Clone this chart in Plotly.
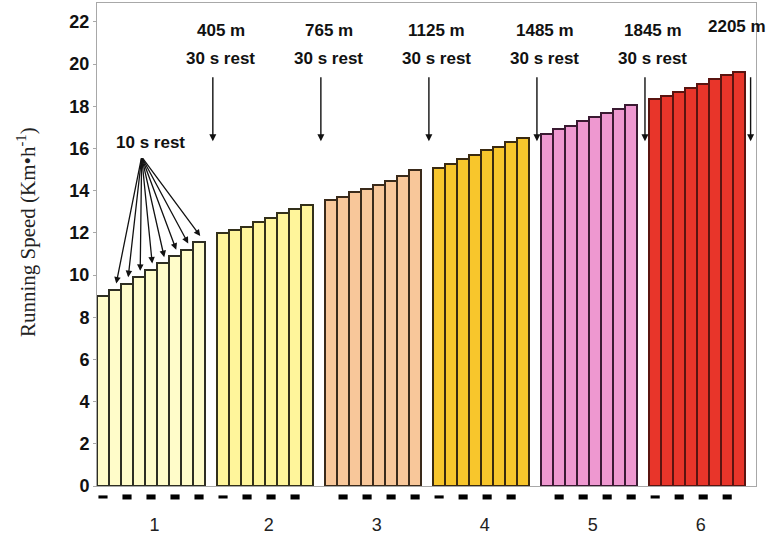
import plotly.graph_objects as go

# running speed (km/h) of every 45 m shuttle, per stage
stage_speeds = [
    [9.0, 9.3, 9.6, 9.9, 10.25, 10.55, 10.9, 11.2, 11.55],
    [12.0, 12.12, 12.3, 12.52, 12.7, 12.94, 13.12, 13.32],
    [13.55, 13.7, 13.93, 14.1, 14.27, 14.47, 14.72, 14.97],
    [15.1, 15.28, 15.5, 15.67, 15.92, 16.08, 16.32, 16.5],
    [16.7, 16.92, 17.08, 17.3, 17.5, 17.67, 17.87, 18.08],
    [18.33, 18.5, 18.66, 18.88, 19.07, 19.3, 19.48, 19.65],
]
stage_labels = ["1", "2", "3", "4", "5", "6"]
stage_colors = ["#FFFCC9", "#FFF59B", "#F8C79A", "#F8C62C", "#EE98D0", "#E8352A"]
stage_edges = ["#2E2E22", "#33301A", "#3A2A1A", "#3A2A10", "#3A1A32", "#5A1410"]
distances = ["405 m", "765 m", "1125 m", "1485 m", "1845 m", "2205 m"]
rest_labels = ["30 s rest", "30 s rest", "30 s rest", "30 s rest", "30 s rest", ""]
# black marks under the bars (1-based shuttle number inside each stage)
dash_shuttles = [[1, 3, 5, 7, 9], [1, 3, 5, 7], [2, 4, 6, 8], [1, 3, 5, 7], [2, 4, 6, 8], [1, 3, 5, 7]]

FONT = "Liberation Sans, Arial, sans-serif"

# one slot per shuttle, one empty slot between stages
slots = []
start = 0
for speeds in stage_speeds:
    slots.append(list(range(start, start + len(speeds))))
    start += len(speeds) + 1
gap_slots = [s[-1] + 1 for s in slots]

fig = go.Figure()

for i, speeds in enumerate(stage_speeds):
    fig.add_trace(go.Bar(
        x=slots[i], y=speeds,
        marker=dict(color=stage_colors[i], line=dict(color=stage_edges[i], width=2)),
        width=1.0, showlegend=False, hoverinfo="y",
    ))

# dashes under the axis: x in data units, y in paper units so they sit below the plot
for i, shuttles in enumerate(dash_shuttles):
    for n in shuttles:
        s = slots[i][n - 1]
        half = 0.0032 if n == 1 else 0.0052
        fig.add_shape(type="rect", xref="x", yref="paper", x0=s - 0.38, x1=s + 0.38,
                      y0=-0.0227 - half, y1=-0.0227 + half, fillcolor="black", line=dict(width=0))

# 30 s rest arrows between stages
for i, g in enumerate(gap_slots):
    last = i == len(gap_slots) - 1
    ax_x = g + 0.15 if not last else g - 0.05
    fig.add_annotation(x=ax_x, y=16.35, ax=ax_x, ay=19.45, xref="x", yref="y", axref="x", ayref="y",
                       text="", showarrow=True, arrowhead=2, arrowsize=1, arrowwidth=1.4, arrowcolor="#111")
    tx = g + 0.8 if not last else g - 1.15
    fig.add_annotation(x=tx, y=21.58 if not last else 21.8, text=distances[i], showarrow=False,
                       font=dict(family=FONT, size=17, color="#111", weight="bold"))
    if rest_labels[i]:
        fig.add_annotation(x=g + 0.8, y=20.25, text=rest_labels[i], showarrow=False,
                           font=dict(family=FONT, size=17, color="#111", weight="bold"))

# 10 s rest arrows inside stage 1
tail_x, tail_y = 3.22, 15.6
for n in range(1, len(stage_speeds[0])):
    fig.add_annotation(x=slots[0][n] + 0.1, y=stage_speeds[0][n] + 0.3, ax=tail_x, ay=tail_y,
                       xref="x", yref="y", axref="x", ayref="y", text="", showarrow=True,
                       arrowhead=2, arrowsize=1, arrowwidth=1.3, arrowcolor="#111")
fig.add_annotation(x=3.92, y=16.3, text="10 s rest", showarrow=False,
                   font=dict(family=FONT, size=17, color="#111", weight="bold"))

fig.add_annotation(x=-0.106, y=0.526, xref="paper", yref="paper", xanchor="center", yanchor="middle",
                   textangle=-90, text="Running Speed (Km•h<sup>-1</sup>)", showarrow=False,
                   font=dict(family="Liberation Serif, Times New Roman, serif", size=21, color="#222"))

centers = [sum(s) / len(s) + 0.3 for s in slots]

fig.update_layout(
    width=773, height=537,
    margin=dict(l=97, r=17, t=2, b=50),
    plot_bgcolor="white", paper_bgcolor="white",
    bargap=0,
    xaxis=dict(range=[-0.5, 54.4], tickvals=centers, ticktext=stage_labels, ticks="",
               showgrid=False, zeroline=False, showline=True, linecolor="#A8A8A8", linewidth=1, mirror=True,
               tickfont=dict(family=FONT, size=18, color="#222"), ticklabelstandoff=22),
    yaxis=dict(range=[0, 22.9], tickvals=list(range(0, 23, 2)), ticks="outside", ticklen=3, tickcolor="#A8A8A8",
               showgrid=False, zeroline=False, showline=True, linecolor="#A8A8A8", linewidth=1, mirror=True,
               tickfont=dict(family=FONT, size=18, color="#111", weight="bold")),
)

fig.write_html("out.html", post_script="document.body.style.margin='0';",
               config={"displayModeBar": False})
